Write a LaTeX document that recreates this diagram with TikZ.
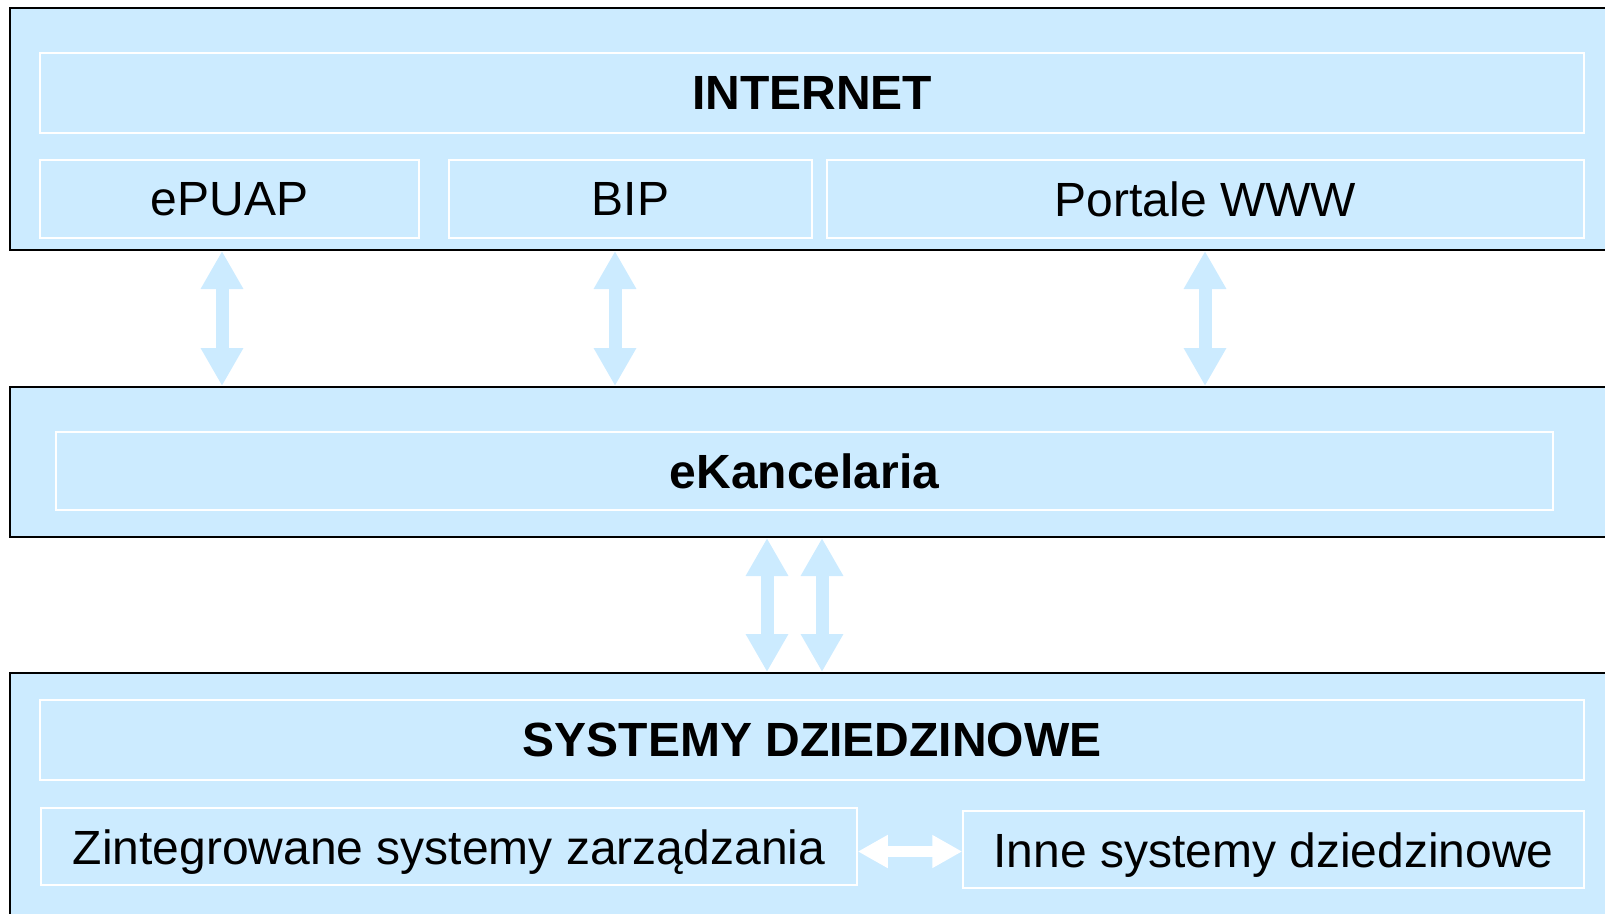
\documentclass[tikz,border=0pt]{standalone}
\usepackage{fontspec}
\setmainfont{Liberation Sans}
\usetikzlibrary{arrows.meta}
\definecolor{paleblue}{RGB}{204,235,255}
\tikzset{
  layer/.style={draw=black, line width=2pt, fill=paleblue, inner sep=0pt},
  cell/.style={draw=white, line width=1.5pt, fill=paleblue, inner sep=0pt,
    font=\fontsize{48}{56}\selectfont},
  head/.style={cell, font=\fontsize{48}{56}\selectfont\bfseries},
  lowcell/.style={cell, text height=45pt, text depth=10pt},
  link/.style={draw=paleblue, line width=13pt,
    {Triangle[width=40pt,length=38pt]}-{Triangle[width=40pt,length=38pt]}},
  sidelink/.style={draw=white, line width=11pt,
    {Triangle[width=31pt,length=30pt]}-{Triangle[width=31pt,length=30pt]}}
}

\begin{document}
\begin{tikzpicture}[x=1pt,y=-1pt]
\useasboundingbox (0,0) rectangle (1605,913);
\clip (0,0) rectangle (1605,913);

\node[layer, minimum width=1610pt, minimum height=242pt] (top) at (815,129) {};
\node[layer, minimum width=1610pt, minimum height=150pt] (mid) at (815,462) {};
\node[layer, minimum width=1610pt, minimum height=260pt] (bot) at (815,803) {};

\node[head, minimum width=1544pt, minimum height=80pt] (internet) at (812,93) {INTERNET};
\node[cell, minimum width=379pt, minimum height=78pt] (epuap) at (229.5,199) {ePUAP};
\node[cell, minimum width=363pt, minimum height=78pt] (bip) at (630.5,199) {BIP};
\node[cell, minimum width=757pt, minimum height=78pt] (portale) at (1205.5,199) {Portale WWW};

\node[head, minimum width=1497pt, minimum height=78pt] (ekancelaria) at (804.5,471) {eKancelaria};

\node[head, minimum width=1544pt, minimum height=80pt] (systemy) at (812,740) {SYSTEMY DZIEDZINOWE};
\node[lowcell, minimum width=816pt, minimum height=77pt] (zintegrowane) at (449,846.5) {Zintegrowane systemy zarządzania};
\node[lowcell, minimum width=621pt, minimum height=77pt] (inne) at (1273.5,849.5) {Inne systemy dziedzinowe};

\draw[link] (top.south -| 222,0) -- (mid.north -| 222,0);
\draw[link] (top.south -| 615,0) -- (mid.north -| 615,0);
\draw[link] (top.south -| 1205,0) -- (mid.north -| 1205,0);

\draw[link] (mid.south -| 767,0) -- (bot.north -| 767,0);
\draw[link] (mid.south -| 822,0) -- (bot.north -| 822,0);

\draw[sidelink] ([yshift=-5pt]zintegrowane.east) -- ([yshift=-5pt]zintegrowane.east -| inne.west);
\end{tikzpicture}
\end{document}
